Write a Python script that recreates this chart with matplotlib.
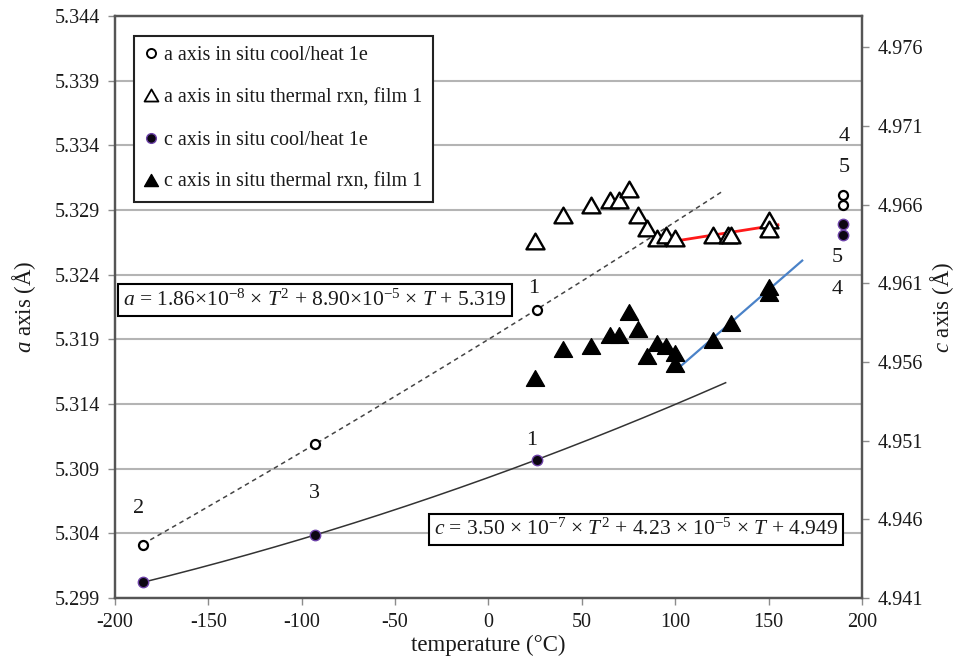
import numpy as np
import matplotlib
matplotlib.use("Agg")
import matplotlib.pyplot as plt
from matplotlib.lines import Line2D
from matplotlib.path import Path

plt.rcParams["font.family"] = ["Liberation Serif", "DejaVu Serif"]
plt.rcParams["mathtext.fontset"] = "custom"
plt.rcParams["mathtext.rm"] = "Liberation Serif"
plt.rcParams["mathtext.it"] = "Liberation Serif:italic"
plt.rcParams["mathtext.bf"] = "Liberation Serif:bold"
plt.rcParams["axes.unicode_minus"] = False

# ---- data -------------------------------------------------------------
# cool/heat cycle 1e (steps 1-3 used for the quadratic fits)
cool_T = [-185, -93, 26]
cool_a = [5.3031, 5.3109, 5.3213]
cool_c = [4.9420, 4.9450, 4.9498]
cool_labels = ["2", "3", "1"]

# cool/heat steps 4 and 5 at 190 °C
step_T = [190, 190]
step_a = [5.3302, 5.3294]
step_c = [4.9648, 4.9641]

# in situ thermal reaction, film 1
rxn_a_T = [25, 40, 55, 65, 70, 75, 80, 85, 90, 95, 100, 120, 128, 130, 150, 150]
rxn_a = [5.3266, 5.3286, 5.3294, 5.3298, 5.3298, 5.3306, 5.3286, 5.3276,
         5.3268, 5.3271, 5.3268, 5.3271, 5.3271, 5.3271, 5.3282, 5.3275]
rxn_c_T = [25, 40, 55, 65, 70, 75, 80, 85, 90, 95, 100, 100, 120, 130, 150, 150]
rxn_c = [4.9550, 4.9568, 4.9570, 4.9577, 4.9577, 4.9592, 4.9581, 4.9564,
         4.9572, 4.9570, 4.9566, 4.9559, 4.9574, 4.9585, 4.9608, 4.9604]

# quadratic fit of a(T): coefficients of T^2, T, 1
a_fit = [1.86e-8, 8.90e-5, 5.319]
a_fit_span = [-185, 126]
c_fit_span = [-185, 127]

# linear trends of the high-temperature reaction data: slope, intercept
a_trend = [2.28e-5, 5.32432]
a_trend_span = [100, 155]
c_trend = [1.031e-4, 4.94513]
c_trend_span = [100, 168]

x_ticks = [-200, -150, -100, -50, 0, 50, 100, 150, 200]
a_ticks = [5.299, 5.304, 5.309, 5.314, 5.319, 5.324, 5.329, 5.334, 5.339, 5.344]
c_ticks = [4.941, 4.946, 4.951, 4.956, 4.961, 4.966, 4.971, 4.976]
c_lim = [4.941, 4.978]

a_eq = r"$a$ = 1.86×10$^{-8}$ × $T^2$ + 8.90×10$^{-5}$ × $T$ + 5.319"
c_eq = r"$c$ = 3.50 × 10$^{-7}$ × $T^2$ + 4.23 × 10$^{-5}$ × $T$ + 4.949"

legend_labels = ["a axis in situ cool/heat 1e",
                 "a axis in situ thermal rxn, film 1",
                 "c axis in situ cool/heat 1e",
                 "c axis in situ thermal rxn, film 1"]

# ---- styling ----------------------------------------------------------
TXT = "#1a1a1a"
SPINE = "#555555"
GRID = "#b4b4b4"
TICK_FS = 14.5
LAB_FS = 16.5
EQ_FS = 15.5
LEG_FS = 14.5
NUM_FS = 16
tri = Path([(-1, -0.87), (1, -0.87), (0, 0.87), (-1, -0.87)],
           [Path.MOVETO, Path.LINETO, Path.LINETO, Path.CLOSEPOLY])
purple = "#6d42a8"
dark = "#0c0612"

fig = plt.figure(figsize=(9.66, 6.57), dpi=100)
ax = fig.add_axes([0.119, 0.0898, 0.7733, 0.8858])
ax2 = ax.twinx()

ax.set_xlim(-200, 200)
ax.set_ylim(a_ticks[0], a_ticks[-1])
ax2.set_ylim(*c_lim)

ax.set_xticks(x_ticks)
ax.set_xticklabels([str(v) for v in x_ticks])
ax.set_yticks(a_ticks)
ax.set_yticklabels([f"{v:.3f}" for v in a_ticks])
ax2.set_yticks(c_ticks)
ax2.set_yticklabels([f"{v:.3f}" for v in c_ticks])

ax.grid(axis="y", color=GRID, lw=1.5, zorder=0)
ax.grid(axis="x", visible=False)
for a_ in (ax, ax2):
    for s in a_.spines.values():
        s.set_color(SPINE)
        s.set_linewidth(1.6)
    a_.tick_params(direction="out", length=5, width=1, color="#8c8c8c",
                   labelsize=TICK_FS, labelcolor=TXT, pad=6)

ax.set_xlabel("temperature (°C)", fontsize=LAB_FS, color=TXT, labelpad=2)
ax.set_ylabel(r"$a$ axis (Å)", fontsize=LAB_FS, color=TXT, labelpad=12)
ax2.set_ylabel(r"$c$ axis (Å)", fontsize=LAB_FS, color=TXT, labelpad=4)

# fit curves
Ta = np.linspace(*a_fit_span, 200)
ax.plot(Ta, np.polyval(a_fit, Ta), ls=(0, (3, 2.5)), color="#444444",
        lw=1.1, zorder=3)
c_coef = np.polyfit(cool_T, cool_c, 2)
Tc = np.linspace(*c_fit_span, 200)
ax2.plot(Tc, np.polyval(c_coef, Tc), color="#333333", lw=1.1, zorder=3)

# reaction trend lines
Tt = np.array(a_trend_span)
ax.plot(Tt, np.polyval(a_trend, Tt), color="#ff1a1a", lw=2, zorder=4)
Tt = np.array(c_trend_span)
ax2.plot(Tt, np.polyval(c_trend, Tt), color="#4a82c8", lw=1.6, zorder=4)

# a axis markers (left scale)
ax.plot(cool_T + step_T, cool_a + step_a, ls="none", marker="o", ms=6.5,
        mfc="white", mec="black", mew=1.6, zorder=5)
ax.plot(rxn_a_T, rxn_a, ls="none", marker=tri, ms=13, mfc="white",
        mec="black", mew=1.7, zorder=5)

# c axis markers (right scale)
ax2.plot(cool_T + step_T, cool_c + step_c, ls="none", marker="o", ms=7.5,
         mfc=dark, mec=purple, mew=1.0, zorder=5)
ax2.plot(rxn_c_T, rxn_c, ls="none", marker=tri, ms=13, mfc="black",
         mec="black", mew=1.0, zorder=5)

# step numbers
lab_kw = dict(textcoords="offset pixels", ha="center", va="center",
              fontsize=NUM_FS, color=TXT, zorder=6)
ax.annotate(cool_labels[0], (cool_T[0], cool_a[0]), xytext=(-4, 36), **lab_kw)
ax2.annotate(cool_labels[1], (cool_T[1], cool_c[1]), xytext=(0, 42), **lab_kw)
ax.annotate(cool_labels[2], (cool_T[2], cool_a[2]), xytext=(-3, 21), **lab_kw)
ax2.annotate(cool_labels[2], (cool_T[2], cool_c[2]), xytext=(-5, 19), **lab_kw)
ax.annotate("4", (step_T[0], step_a[0]), xytext=(1, 58), **lab_kw)
ax.annotate("5", (step_T[1], step_a[1]), xytext=(1, 37), **lab_kw)
ax2.annotate("4", (step_T[0], step_c[0]), xytext=(-6, -66), **lab_kw)
ax2.annotate("5", (step_T[1], step_c[1]), xytext=(-6, -23), **lab_kw)

# fit equations
box = dict(boxstyle="square,pad=0.25", fc="white", ec="black", lw=1.5)
ax.text(0.2677, 0.512, a_eq, transform=ax.transAxes, ha="center",
        va="center", fontsize=EQ_FS, color=TXT, bbox=box, zorder=6)
ax.text(0.6975, 0.1177, c_eq, transform=ax.transAxes, ha="center",
        va="center", fontsize=EQ_FS, color=TXT, bbox=box, zorder=6)

# legend
handles = [
    Line2D([], [], ls="none", marker="o", ms=6.5, mfc="white", mec="black", mew=1.4),
    Line2D([], [], ls="none", marker=tri, ms=10, mfc="white", mec="black", mew=1.3),
    Line2D([], [], ls="none", marker="o", ms=7, mfc=dark, mec=purple, mew=1.0),
    Line2D([], [], ls="none", marker=tri, ms=10, mfc="black", mec="black", mew=1.0),
]
leg = ax2.legend(handles, legend_labels, loc="upper left",
                 bbox_to_anchor=(134 / 966, 1 - 36 / 657),
                 bbox_transform=fig.transFigure, borderaxespad=0,
                 fontsize=LEG_FS, frameon=True, fancybox=False, framealpha=1,
                 edgecolor="#222222", handlelength=0.7, handletextpad=0.3,
                 labelspacing=1.15, borderpad=0.5)
leg.get_frame().set_linewidth(1.5)
for t in leg.get_texts():
    t.set_color(TXT)

fig.savefig("out.png", dpi=100)
